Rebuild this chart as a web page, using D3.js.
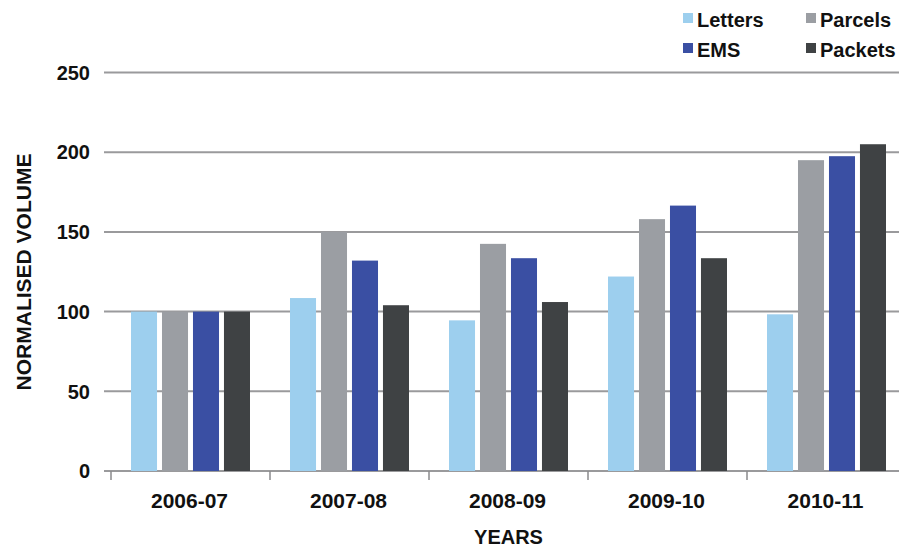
<!DOCTYPE html>
<html>
<head>
<meta charset="utf-8">
<script src="https://cdn.jsdelivr.net/npm/d3@7"></script>
<style>
  html, body { margin: 0; padding: 0; background: #fff; }
  svg { display: block; font-family: "Liberation Sans", Arial, Helvetica, sans-serif; font-weight: bold; }
</style>
</head>
<body>
<svg id="chart" width="899" height="548"></svg>
<script>
// Postal volumes, normalised to 2006-07 = 100
const years = ["2006-07", "2007-08", "2008-09", "2009-10", "2010-11"];
const seriesNames = ["Letters", "Parcels", "EMS", "Packets"];
const letters = [100, 108.5, 94.5, 122, 98.3];
const parcels = [100, 150, 142.5, 158, 195];
const ems = [100, 132, 133.5, 166.5, 197.5];
const packets = [100, 104, 106, 133.5, 205];
const yTicks = [0, 50, 100, 150, 200, 250];

const seriesValues = { Letters: letters, Parcels: parcels, EMS: ems, Packets: packets };
const colors = { Letters: "#9dcfee", Parcels: "#9b9ea3", EMS: "#3a4fa3", Packets: "#3f4244" };

const svg = d3.select("#chart");
const W = 899;

const x0 = d3.scaleBand().domain(years).range([111, 906]).padding(0);
const x1 = d3.scaleBand().domain(seriesNames).range([20, 139]).paddingInner(0.16);
const y = d3.scaleLinear().domain([0, 250]).range([471, 72.5]);

// horizontal gridlines
svg.append("g").selectAll("line").data(yTicks).join("line")
  .attr("x1", 104).attr("x2", W)
  .attr("y1", d => y(d)).attr("y2", d => y(d))
  .attr("stroke", "#9a9a9c").attr("stroke-width", 2);

// y tick labels
svg.append("g").selectAll("text").data(yTicks).join("text")
  .attr("x", 90).attr("y", d => y(d)).attr("dy", "0.36em")
  .attr("text-anchor", "end").attr("font-size", 20).attr("fill", "#111")
  .text(d => d);

// bars
const groups = svg.append("g").selectAll("g").data(years).join("g")
  .attr("transform", d => `translate(${x0(d)},0)`);
groups.selectAll("rect")
  .data((yr, i) => seriesNames.map(s => ({ s, v: seriesValues[s][i] })))
  .join("rect")
  .attr("x", d => x1(d.s))
  .attr("width", x1.bandwidth())
  .attr("y", d => y(d.v))
  .attr("height", d => y(0) - y(d.v))
  .attr("fill", d => colors[d.s]);

// x axis ticks at band boundaries
const bounds = years.map(d => x0(d));
svg.append("g").selectAll("line").data(bounds).join("line")
  .attr("x1", d => d).attr("x2", d => d)
  .attr("y1", y(0)).attr("y2", y(0) + 9)
  .attr("stroke", "#8a8a8c").attr("stroke-width", 1.5);

// x tick labels
svg.append("g").selectAll("text").data(years).join("text")
  .attr("x", d => x0(d) + x0.bandwidth() / 2 - 1)
  .attr("y", 508)
  .attr("text-anchor", "middle").attr("font-size", 21).attr("fill", "#111")
  .text(d => d);

// axis titles
svg.append("text")
  .attr("x", 508.5).attr("y", 544)
  .attr("text-anchor", "middle").attr("font-size", 20).attr("fill", "#111")
  .text("YEARS");
svg.append("text")
  .attr("transform", "translate(31,272) rotate(-90)")
  .attr("text-anchor", "middle").attr("font-size", 21).attr("fill", "#111")
  .text("NORMALISED VOLUME");

// legend
const legendPos = { Letters: [683, 13], Parcels: [806, 13], EMS: [683, 43], Packets: [806, 43] };
const legend = svg.append("g").selectAll("g").data(seriesNames).join("g")
  .attr("transform", d => `translate(${legendPos[d][0]},${legendPos[d][1]})`);
legend.append("rect").attr("width", 10).attr("height", 10).attr("fill", d => colors[d]);
legend.append("text").attr("x", 14).attr("y", 14)
  .attr("font-size", 20).attr("fill", "#111").text(d => d);
</script>
</body>
</html>
